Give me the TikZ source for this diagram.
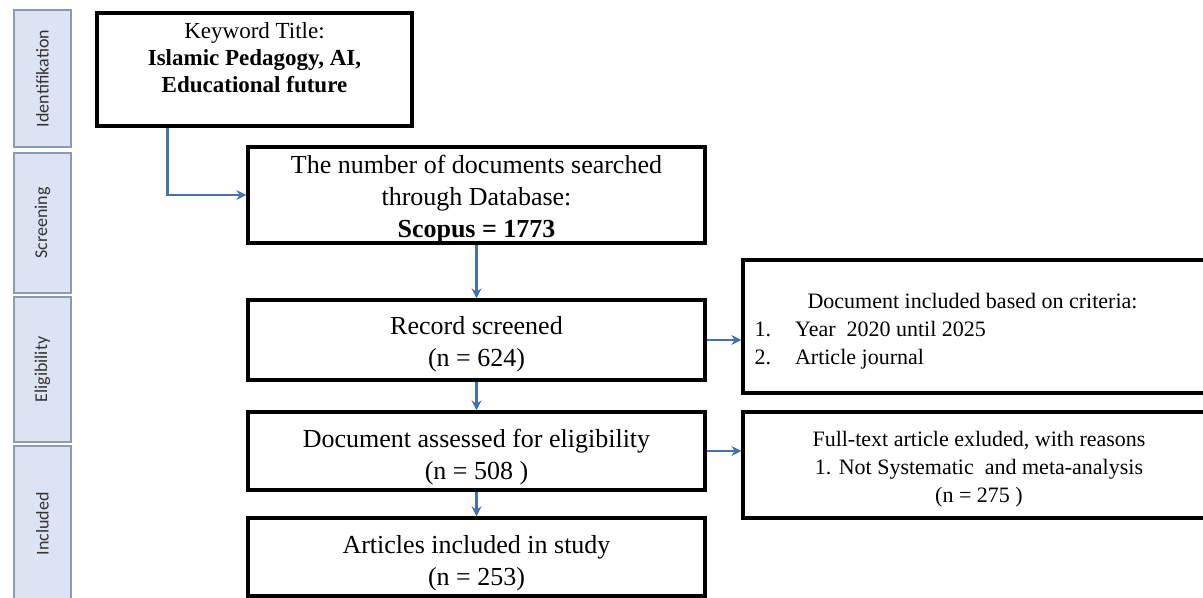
\documentclass[tikz,border=0pt]{standalone}
\usepackage{fontspec}
\setmainfont{Liberation Serif}
\newfontfamily\sidefont{Carlito}
\usetikzlibrary{arrows.meta,calc}
\definecolor{flowblue}{RGB}{68,114,176}
\definecolor{phasefill}{RGB}{220,227,242}
\definecolor{phaseline}{RGB}{140,155,180}
% lines of a box, moved up (+) or down (-) without changing the box
\newcommand{\inbox}[3][c]{\raisebox{#2}[\height][\depth]{\begin{tabular}{@{}#1@{}}#3\end{tabular}}}
\tikzset{
  stage/.style={draw=black, line width=1.6pt, fill=white, inner sep=0pt,
    font=\fontsize{13}{16}\selectfont},
  flow/.style={draw=flowblue, line width=1.1pt, -{Stealth[length=5pt,width=5pt]}},
}

\begin{document}
\begin{tikzpicture}[x=0.5pt, y=-0.5pt]
  \useasboundingbox (0,0) rectangle (1203,598); % page = reference size
  \foreach \lab/\ya/\yb in {Identifikation/10/147, Screening/153/293, Eligibility/297/442, Included/446/602} {
    \draw[draw=phaseline, fill=phasefill, line width=0.6pt] (14,\ya) rectangle (71,\yb);
    \node[rotate=90, font=\sidefont\fontsize{9}{11}\selectfont, text=black!80] (ph\lab) at (42.5,{(\ya+\yb)/2}) {\lab};
  }

  \node[stage, minimum width=157.5pt, minimum height=56.5pt, font=\fontsize{11.5}{13.5}\selectfont] (kw) at (254.5,69.5)
    {\inbox{4.5pt}{Keyword Title:\\ \textbf{Islamic Pedagogy, AI,}\\ \textbf{Educational future}}};
  \node[stage, minimum width=228.5pt, minimum height=48pt] (db) at (476.5,195)
    {\inbox{-2pt}{The number of documents searched\\ through Database:\\ \textbf{Scopus = 1773}}};
  \node[stage, minimum width=228.5pt, minimum height=40pt] (rec) at (476.5,340)
    {\inbox{-2.25pt}{Record screened\\ (n = 624)}};
  \node[stage, minimum width=228.5pt, minimum height=39pt] (elig) at (476.5,451)
    {\inbox{-3pt}{Document assessed for eligibility\\ (n = 508 )}};
  \node[stage, minimum width=228.5pt, minimum height=39pt] (incl) at (476.5,557)
    {\inbox{-3pt}{Articles included in study\\ (n = 253)}};

  % boxes on the right run past the page edge
  \node[stage, minimum width=236pt, minimum height=66.5pt, font=\fontsize{11}{14}\selectfont] (crit) at (979,326.5)
    {\inbox[l]{-2.25pt}{\hspace*{26.5pt}Document included based on criteria:\hspace*{33pt}\\ 1.\hspace{12pt}Year~ 2020 until 2025\\ 2.\hspace{12pt}Article journal}};
  \node[stage, minimum width=236pt, minimum height=53pt, font=\fontsize{11}{14}\selectfont] (excl) at (979,465)
    {\inbox{-2pt}{Full-text article exluded, with reasons\\ 1. Not Systematic~ and meta-analysis\\ (n = 275 )}};

  \draw[flow] ($(kw.south west)+(72,0)$) |- (db.west);
  \draw[flow] (db.south) -- (rec.north);
  \draw[flow] (rec.south) -- (elig.north);
  \draw[flow] (elig.south) -- (incl.north);
  \draw[flow] (rec.east) -- (rec.east -| crit.west);
  \draw[flow] (elig.east) -- (elig.east -| excl.west);
\end{tikzpicture}
\end{document}
